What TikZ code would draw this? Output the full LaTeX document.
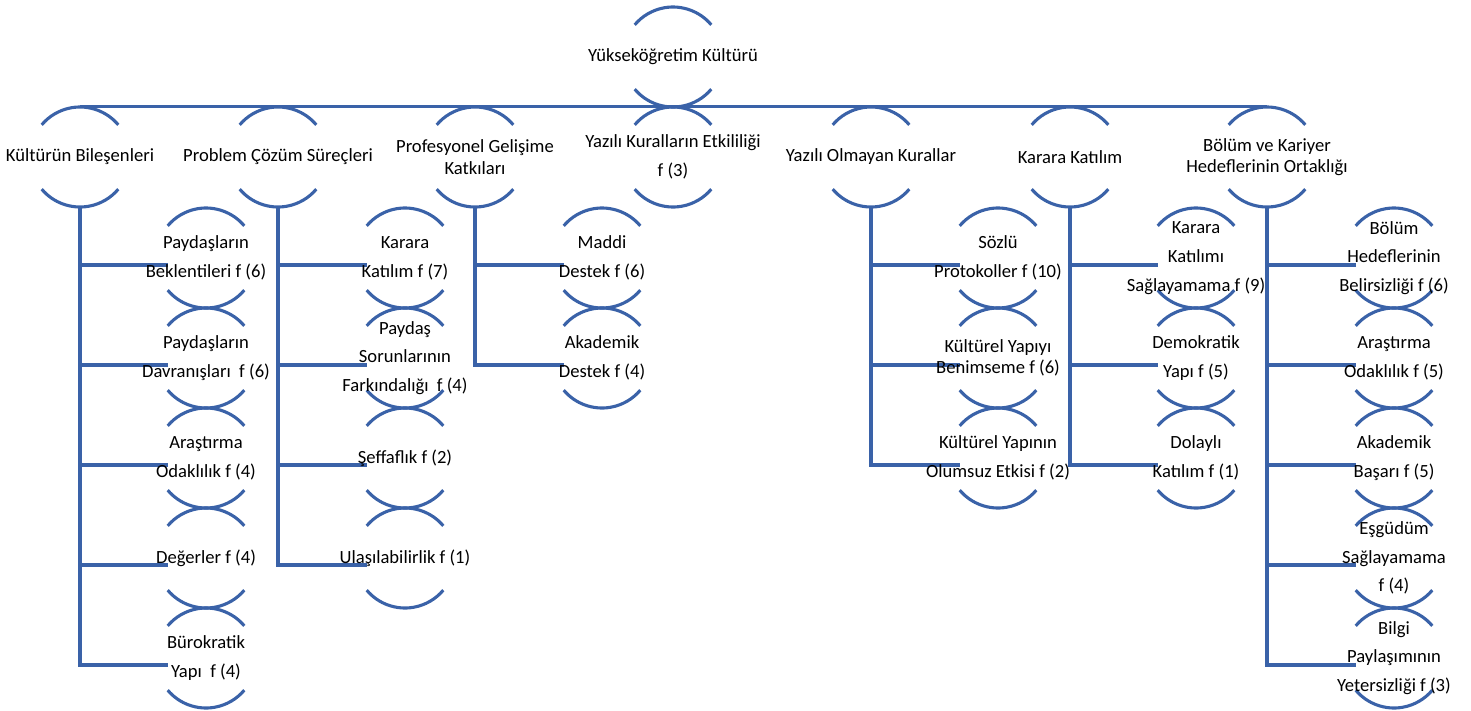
\documentclass[tikz,border=0pt]{standalone}
\usepackage{fontspec}
\setmainfont{Carlito}
\usetikzlibrary{calc,backgrounds}
\definecolor{hier}{HTML}{3A62A8}
\begin{document}
\begin{tikzpicture}[x=1pt,y=-1pt,
  bub/.style={rectangle,minimum height=100pt,inner sep=0pt,align=center,
              font=\fontsize{18.6}{28.8}\selectfont},
  tight/.style={font=\fontsize{18.6}{21.5}\selectfont},
  arcline/.style={draw=hier,line width=3.1pt},
  link/.style={draw=hier,line width=3.1pt}]
\useasboundingbox (0,0) rectangle (1471,710);

% root and second level
\node[bub] (r)  at (673,57)  {Yükseköğretim Kültürü};
\node[bub] (k1) at (80,157)  {Kültürün Bileşenleri};
\node[bub] (k2) at (278,157) {Problem Çözüm Süreçleri};
\node[bub,tight] (k3) at (475,157) {Profesyonel Gelişime\\Katkıları};
\node[bub] (k4) at (673,157) {Yazılı Kuralların Etkililiği\\f (3)};
\node[bub] (k5) at (871,157) {Yazılı Olmayan Kurallar};
\node[bub] (k6) at (1070,157) {Karara Katılım};
\node[bub,tight] (k7) at (1267,157) {Bölüm ve Kariyer\\Hedeflerinin Ortaklığı};

% Kültürün Bileşenleri
\node[bub] (a1) at (206,258) {Paydaşların\\Beklentileri f (6)};
\node[bub] (a2) at (206,358) {Paydaşların\\Davranışları~ f (6)};
\node[bub] (a3) at (206,458) {Araştırma\\Odaklılık f (4)};
\node[bub] (a4) at (206,558) {Değerler f (4)};
\node[bub] (a5) at (206,658) {Bürokratik\\Yapı~ f (4)};
% Problem Çözüm Süreçleri
\node[bub] (b1) at (405,258) {Karara\\Katılım f (7)};
\node[bub] (b2) at (405,358) {Paydaş\\Sorunlarının\\Farkındalığı~ f (4)};
\node[bub] (b3) at (405,458) {Şeffaflık f (2)};
\node[bub] (b4) at (405,558) {Ulaşılabilirlik f (1)};
% Profesyonel Gelişime Katkıları
\node[bub] (p1) at (602,258) {Maddi\\Destek f (6)};
\node[bub] (p2) at (602,358) {Akademik\\Destek f (4)};
% Yazılı Olmayan Kurallar
\node[bub] (y1) at (998,258) {Sözlü\\Protokoller f (10)};
\node[bub,tight] (y2) at (998,358) {Kültürel Yapıyı\\Benimseme f (6)};
\node[bub] (y3) at (998,458) {Kültürel Yapının\\Olumsuz Etkisi f (2)};
% Karara Katılım
\node[bub] (d1) at (1196,258) {Karara\\Katılımı\\Sağlayamama f (9)};
\node[bub] (d2) at (1196,358) {Demokratik\\Yapı f (5)};
\node[bub] (d3) at (1196,458) {Dolaylı\\Katılım f (1)};
% Bölüm ve Kariyer Hedeflerinin Ortaklığı
\node[bub] (h1) at (1394,258) {Bölüm\\Hedeflerinin\\Belirsizliği f (6)};
\node[bub] (h2) at (1394,358) {Araştırma\\Odaklılık f (5)};
\node[bub] (h3) at (1394,458) {Akademik\\Başarı f (5)};
\node[bub] (h4) at (1394,558) {Eşgüdüm\\Sağlayamama\\f (4)};
\node[bub] (h5) at (1394,658) {Bilgi\\Paylaşımının\\Yetersizliği f (3)};

% branch end points on the left of each child
\foreach \c in {a1,a2,a3,a4,a5,b1,b2,b3,b4,p1,p2,y1,y2,y3,d1,d2,d3,h1,h2,h3,h4,h5}
  \coordinate (\c e) at ([xshift=-38pt,yshift=-7pt]\c.center);

\begin{pgfonlayer}{background}
  % bracket arcs above and below every label
  \foreach \n in {r,k1,k2,k3,k4,k5,k6,k7,a1,a2,a3,a4,a5,b1,b2,b3,b4,p1,p2,y1,y2,y3,d1,d2,d3,h1,h2,h3,h4,h5} {
    \draw[arcline] ([shift={(40:50pt)}]\n.center) arc[start angle=40,end angle=140,radius=50pt];
    \draw[arcline] ([shift={(220:50pt)}]\n.center) arc[start angle=220,end angle=320,radius=50pt];
  }
  % top bar
  \draw[link] (k1.north) -- (k7.north);
  % column trunks and branches
  \draw[link] (k1.south) |- (a5e);
  \foreach \c in {a1,a2,a3,a4} \draw[link] (k1.south |- \c e) -- (\c e);
  \draw[link] (k2.south) |- (b4e);
  \foreach \c in {b1,b2,b3} \draw[link] (k2.south |- \c e) -- (\c e);
  \draw[link] (k3.south) |- (p2e);
  \draw[link] (k3.south |- p1e) -- (p1e);
  \draw[link] (k5.south) |- (y3e);
  \foreach \c in {y1,y2} \draw[link] (k5.south |- \c e) -- (\c e);
  \draw[link] (k6.south) |- (d3e);
  \foreach \c in {d1,d2} \draw[link] (k6.south |- \c e) -- (\c e);
  \draw[link] (k7.south) |- (h5e);
  \foreach \c in {h1,h2,h3,h4} \draw[link] (k7.south |- \c e) -- (\c e);
\end{pgfonlayer}
\end{tikzpicture}
\end{document}
